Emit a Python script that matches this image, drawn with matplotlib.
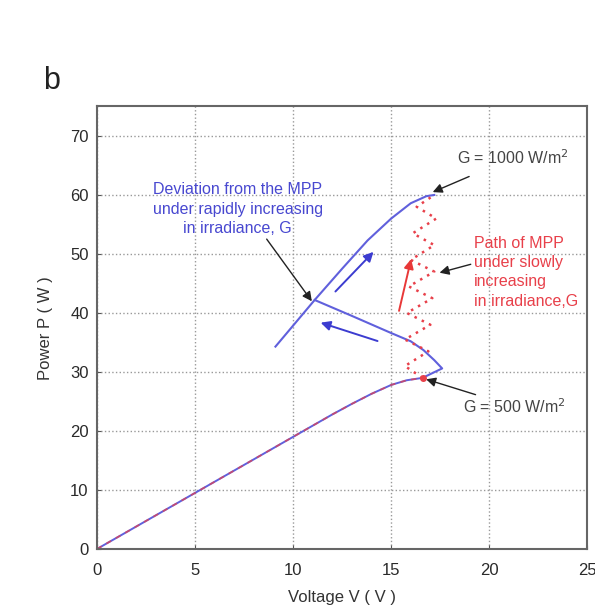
import numpy as np
import matplotlib
matplotlib.use('Agg')
import matplotlib.pyplot as plt

plt.rcParams['font.family'] = ['Liberation Sans', 'DejaVu Sans']

# P-V curve at G = 500 W/m2 up to its MPP
v_500 = [0, 2, 4, 6, 8, 10, 12, 13, 14, 15, 15.8, 16.6]
p_500 = [0, 3.8, 7.6, 11.4, 15.2, 19.0, 22.8, 24.6, 26.3, 27.8, 28.6, 29.0]

# part of the P-V curve at G = 1000 W/m2
v_1000 = [9.1, 11.1, 12.5, 13.8, 15.0, 16.0, 16.8, 17.2]
p_1000 = [34.3, 42.2, 47.5, 52.3, 56.0, 58.6, 59.8, 60.0]

# operating point under rapidly increasing irradiance
v_fast = [16.6, 17.6, 17.2, 16.65, 16.0, 15.0, 13.0, 11.1]
p_fast = [29.0, 30.6, 32.0, 33.7, 35.2, 36.6, 39.5, 42.2]

# path of MPP under slowly increasing irradiance
v_slow = [16.6, 15.7, 16.9, 15.7, 17.0, 15.8, 17.1, 15.9, 17.2, 16.0, 17.2, 16.1, 17.3, 16.3, 17.2]
p_slow = [29.0, 31.0, 33.5, 35.5, 38.0, 40.0, 42.5, 44.5, 47.0, 49.0, 51.5, 53.5, 56.0, 58.0, 60.0]

x_ticks = [0, 5, 10, 15, 20, 25]
y_ticks = [0, 10, 20, 30, 40, 50, 60, 70]

fig = plt.figure(figsize=(5.95, 6.07), dpi=100)
ax = fig.add_axes([0.163, 0.0956, 0.824, 0.729])

blue = '#6060dc'
red = '#e8404a'
fs = 11.5

ax.plot(v_500, p_500, color=blue, lw=1.4)
ax.plot(v_500, p_500, color=red, lw=1.3, ls=(0, (3, 3)), alpha=0.7)
ax.plot(v_1000, p_1000, color=blue, lw=1.5)
ax.plot(v_fast, p_fast, color=blue, lw=1.5)
ax.plot(v_slow, p_slow, color=red, lw=1.8, ls=(0, (1, 2.2)))
ax.plot([16.6], [29.0], marker='o', ms=4, color=red)

# direction arrows
ax.annotate('', xy=(14.2, 50.7), xytext=(12.06, 43.3),
            arrowprops=dict(arrowstyle='-|>', color='#3c3cd0', lw=1.4, mutation_scale=14))
ax.annotate('', xy=(11.27, 38.5), xytext=(14.44, 35.1),
            arrowprops=dict(arrowstyle='-|>', color='#3c3cd0', lw=1.4, mutation_scale=14))
ax.annotate('', xy=(16.05, 49.6), xytext=(15.37, 39.9),
            arrowprops=dict(arrowstyle='-|>', color='#e83838', lw=1.4, mutation_scale=14))

# labels
ax.annotate('G = 1000 W/m$^2$', xy=(16.99, 60.3), xytext=(21.2, 66.3),
            ha='center', va='center', fontsize=fs, color='#444444',
            arrowprops=dict(arrowstyle='-|>', color='#222222', lw=1, mutation_scale=14,
                            shrinkA=12))
ax.annotate('G = 500 W/m$^2$', xy=(16.65, 28.9), xytext=(18.67, 24.1),
            ha='left', va='center', fontsize=fs, color='#444444',
            arrowprops=dict(arrowstyle='-|>', color='#222222', lw=1, mutation_scale=14,
                            shrinkA=0))
ax.annotate('Path of MPP\nunder slowly\nincreasing\nin irradiance,G', xy=(17.33, 46.7),
            xytext=(19.2, 46.9), ha='left', va='center', fontsize=fs, color=red,
            linespacing=1.35,
            arrowprops=dict(arrowstyle='-|>', color='#222222', lw=1, mutation_scale=14,
                            shrinkA=0, relpos=(0, 0.62)))
ax.text(7.17, 57.6, 'Deviation from the MPP\nunder rapidly increasing\nin irradiance, G',
        ha='center', va='center', fontsize=fs, color='#4848d0', linespacing=1.38)
ax.annotate('', xy=(11.04, 41.6), xytext=(8.57, 52.9),
            arrowprops=dict(arrowstyle='-|>', color='#222222', lw=1, mutation_scale=14))

ax.set_xlim(0, 25)
ax.set_ylim(0, 75)
ax.set_xticks(x_ticks)
ax.set_yticks(y_ticks)
ax.grid(True, color='#999999', ls=':', lw=1)
ax.tick_params(direction='in', length=3, color='#555555', labelsize=12, labelcolor='#2a2a2a')
ax.tick_params(axis='x', pad=10)
ax.tick_params(axis='y', pad=6)
for s in ax.spines.values():
    s.set_color('#666666')
    s.set_linewidth(1.5)
ax.set_xlabel('Voltage V ( V )', fontsize=12, color='#333333', labelpad=9)
ax.set_ylabel('Power P ( W )', fontsize=12, color='#333333', labelpad=12)

fig.text(0.087, 0.866, 'b', fontsize=22, color='#222222', ha='center', va='center')

fig.savefig('out.png', dpi=100)
